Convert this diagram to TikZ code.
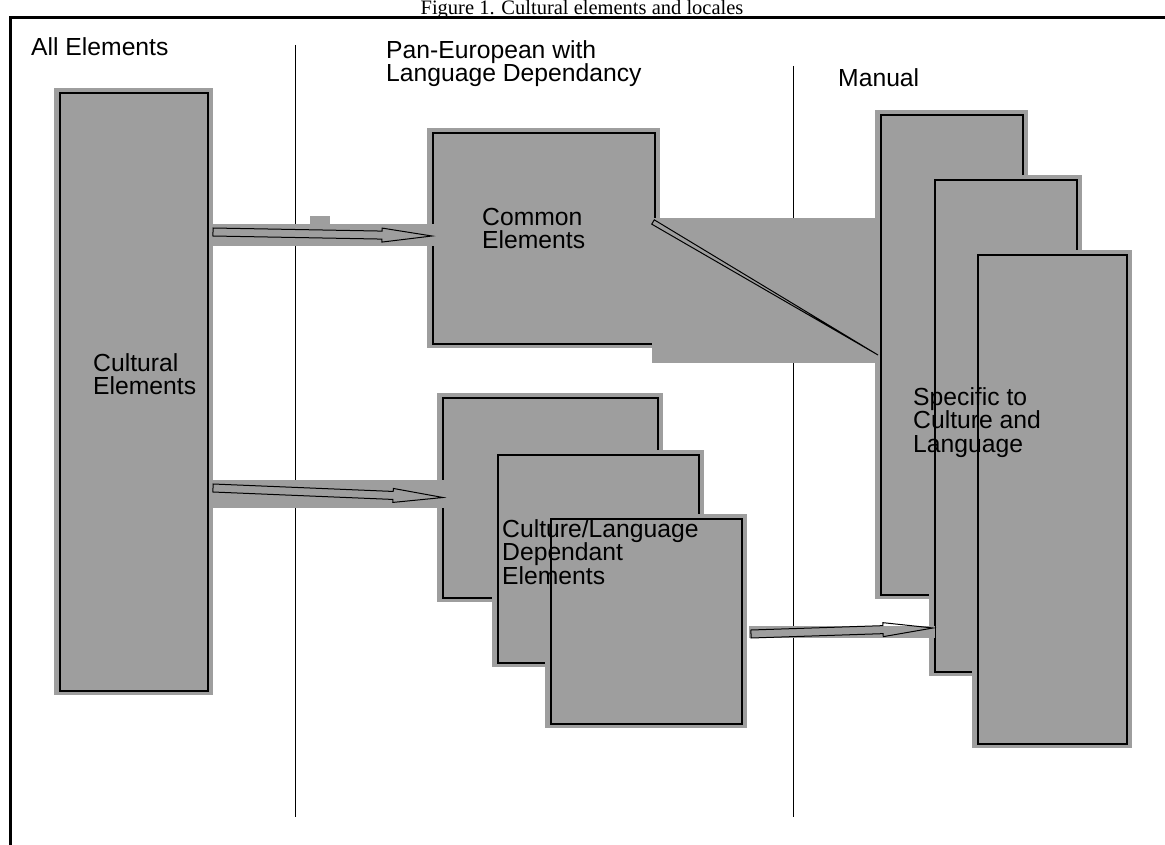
\documentclass[tikz,border=0pt]{standalone}
\usepackage{fontspec}
\setmainfont{Liberation Sans}
\newfontfamily\captionfont{Liberation Serif}
\usetikzlibrary{calc,positioning}

\definecolor{dotgray}{gray}{0.62}

\tikzset{
  zone/.style={fill=dotgray, draw=none, inner sep=0pt, outer sep=0pt,
    path picture={\draw[line width=1.2pt]
      ([shift={(6pt,-5pt)}]path picture bounding box.north west) rectangle
      ([shift={(-5pt,4pt)}]path picture bounding box.south east);}},
  zonebare/.style={fill=dotgray, draw=none, inner sep=0pt, outer sep=0pt},
  boxtext/.style={anchor=north west, inner sep=0pt, align=left,
    font=\fontsize{24.7}{23.5}\selectfont},
  divider/.style={line width=1pt},
  hollow/.style={draw, line width=1pt, line join=miter},
}

% gray strip with a hollow arrow on it
\newcommand\linkarrow[2]{%
  \fill[dotgray] ($(#1)+(-2,-8)$) rectangle ($(#2)+(2,10)$);
  \coordinate (hb) at ($(#2)!50pt!(#1)$);
  \draw[hollow] ($(#1)!4pt!90:(#2)$) -- ($(hb)!4pt!90:(#2)$) -- ($(hb)!7pt!90:(#2)$)
    -- (#2) -- ($(hb)!7pt!-90:(#2)$) -- ($(hb)!4pt!-90:(#2)$) -- ($(#1)!4pt!-90:(#2)$) -- cycle;
}

\begin{document}
\begin{tikzpicture}[x=1pt,y=-1pt]

\useasboundingbox (0,0) rectangle (1165,845);

\node (title) at (582,15) [anchor=base, inner sep=0pt, font=\captionfont\fontsize{20.5}{20.5}\selectfont] {Figure 1. Cultural elements and locales};

\draw [line width=3pt] (1165,18) -- (10,18) -- (10,845);
\draw [divider] (295,45) -- (295,817);
\draw [divider] (793,66) -- (793,817);

\node (hall) at (31,37) [boxtext] {All Elements};
\node (hpan) at (386,40) [boxtext] {Pan-European with\\Language Dependancy};
\node (hman) at (838,68) [boxtext] {Manual};

\node (cult) at (133.5,391.5) [zone, minimum width=159pt, minimum height=607pt] {};
\node (common) at (543.5,238) [zone, minimum width=233pt, minimum height=220pt] {};
\node (spec1) at (951.5,354.5) [zone, minimum width=153pt, minimum height=489pt] {};
\node (commonbar) at (766,290.5) [zonebare, minimum width=228pt, minimum height=145pt] {};
\node (spec2) at (1005.5,425.5) [zone, minimum width=153pt, minimum height=501pt] {};
\node (spec3) at (1052,499) [zone, minimum width=160pt, minimum height=498pt] {};
\node (dep1) at (550,497.5) [zone, minimum width=226pt, minimum height=209pt] {};
\node (dep2) at (598,558.5) [zone, minimum width=212pt, minimum height=217pt] {};
\node (dep3) at (646,621) [zone, minimum width=202pt, minimum height=214pt] {};

\fill [dotgray] (310,216) rectangle (330,227);

\coordinate (a1s) at ($(cult.east)+(0,-159.5)$);
\coordinate (a1e) at ($(common.west)+(5,-2)$);
\coordinate (a2s) at ($(cult.east)+(0,96.5)$);
\coordinate (a2e) at ($(dep1.west)+(6,0)$);
\coordinate (a3s) at ($(dep3.east)+(4,13)$);
\coordinate (a3e) at ($(spec2.west)+(4,202.5)$);
\linkarrow{a1s}{a1e}
\linkarrow{a2s}{a2e}
\linkarrow{a3s}{a3e}

\coordinate (w1) at ($(commonbar.north west)+(1,4)$);
\coordinate (w2) at ($(commonbar.south east)+(-2,-8)$);
\draw [hollow] ($(w1)!2.5pt!90:(w2)$) -- (w2) -- ($(w1)!2.5pt!-90:(w2)$) -- cycle;

\node (tcult) at (93,353) [boxtext] {Cultural\\Elements};
\node (tcommon) at (482,208) [boxtext] {Common\\Elements};
\node (tdep) at (502,519) [boxtext] {Culture/Language\\Dependant\\Elements};
\node (tspec) at (913,387) [boxtext] {Specific to\\Culture and\\Language};

\end{tikzpicture}
\end{document}
